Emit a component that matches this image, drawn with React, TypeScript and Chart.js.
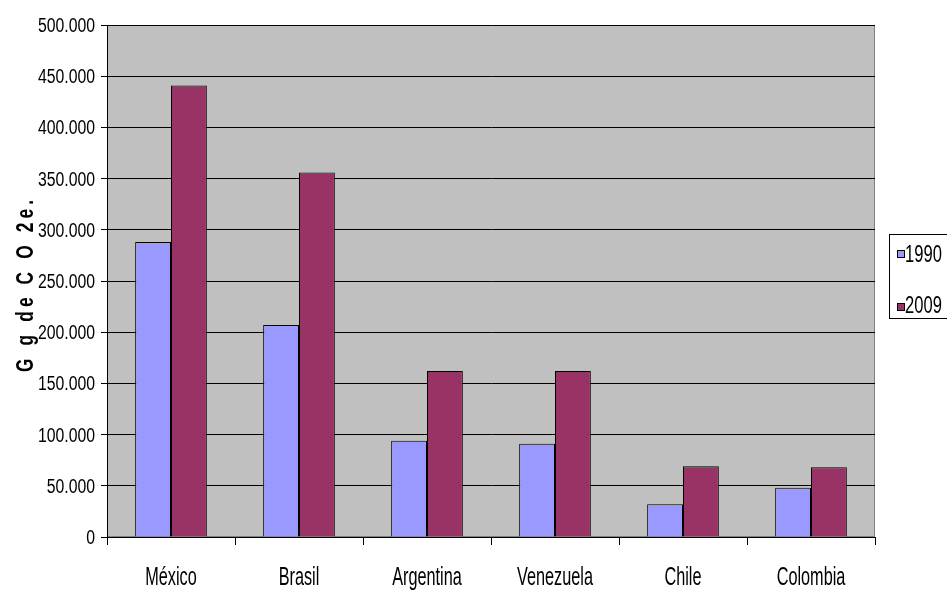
import React, { useEffect, useRef } from 'react';
import { Chart, registerables } from 'chart.js';

Chart.register(...registerables);

const categories = ['México', 'Brasil', 'Argentina', 'Venezuela', 'Chile', 'Colombia'];
const series1990 = [288000, 207000, 94000, 91000, 32000, 48000];
const series2009 = [441000, 356000, 162000, 162000, 69000, 68000];
const seriesLabels = ['1990', '2009'];
const seriesColors = ['#9999FF', '#993366'];
const yTitle = 'G g de C O 2e.';
const yMax = 500000;
const yStep = 50000;

const FONT = "'Liberation Sans', Arial, sans-serif";

function fmt(v: number): string {
  if (v === 0) return '0';
  return String(Math.round(v)).replace(/\B(?=(\d{3})+(?!\d))/g, '.');
}

function drawText(
  ctx: CanvasRenderingContext2D,
  text: string,
  x: number,
  y: number,
  size: number,
  sx: number,
  align: 'left' | 'right' | 'center',
  bold = false
) {
  ctx.save();
  ctx.font = `${bold ? 'bold ' : ''}${size}px ${FONT}`;
  ctx.fillStyle = '#000';
  ctx.textBaseline = 'alphabetic';
  ctx.textAlign = align;
  ctx.translate(x, y);
  ctx.scale(sx, 1);
  ctx.fillText(text, 0, 0);
  ctx.restore();
}

const decorPlugin = {
  id: 'decor',
  beforeDraw(chart: any) {
    const { ctx, chartArea } = chart;
    const { left, top, right, bottom } = chartArea;
    ctx.save();
    ctx.fillStyle = '#C0C0C0';
    ctx.fillRect(left, top, right - left, bottom - top);
    ctx.strokeStyle = '#808080';
    ctx.lineWidth = 1;
    ctx.strokeRect(left + 0.5, top + 0.5, right - left - 1, bottom - top - 1);
    ctx.restore();
  },
  afterDraw(chart: any) {
    const { ctx, chartArea, scales } = chart;

    // Y tick labels
    scales.y.ticks.forEach((t: any) => {
      const py = scales.y.getPixelForValue(t.value);
      drawText(ctx, fmt(t.value), 95, py + 7, 20, 0.79, 'right');
    });

    // X tick labels
    categories.forEach((c, i) => {
      const px = scales.x.getPixelForValue(i);
      drawText(ctx, c, px, 585, 25, 0.65, 'center');
    });

    // Y title (letters spread along the axis)
    ctx.save();
    const center = (chartArea.top + chartArea.bottom) / 2 + 5;
    ctx.translate(33, center);
    ctx.rotate(-Math.PI / 2);
    const size = 24;
    const sx = 0.72;
    ctx.font = `bold ${size}px ${FONT}`;
    ctx.fillStyle = '#000';
    ctx.textBaseline = 'alphabetic';
    ctx.textAlign = 'left';
    const chars = Array.from(yTitle);
    const widths = chars.map((ch) => ctx.measureText(ch).width * sx);
    const natural = widths.reduce((a, b) => a + b, 0);
    const total = 172;
    const gap = (total - natural) / (chars.length - 1);
    let cx = -total / 2;
    chars.forEach((ch, i) => {
      ctx.save();
      ctx.translate(cx, 0);
      ctx.scale(sx, 1);
      ctx.fillText(ch, 0, 0);
      ctx.restore();
      cx += widths[i] + gap;
    });
    ctx.restore();

    // Legend
    ctx.save();
    ctx.strokeStyle = '#000';
    ctx.lineWidth = 1;
    ctx.strokeRect(889.5, 234.5, 80, 84);
    const ys = [254, 307];
    const baselines = [262, 313];
    seriesLabels.forEach((lab, i) => {
      ctx.fillStyle = seriesColors[i];
      ctx.fillRect(898, ys[i] - 3, 6, 6);
      ctx.strokeStyle = '#000';
      ctx.strokeRect(897.5, ys[i] - 3.5, 7, 7);
      drawText(ctx, lab, 905, baselines[i], 23, 0.72, 'left');
    });
    ctx.restore();
  },
};

export default function App() {
  const ref = useRef<HTMLCanvasElement | null>(null);
  useEffect(() => {
    document.body.style.margin = '0';
    if (!ref.current) return;
    const chart = new Chart(ref.current, {
      type: 'bar',
      data: {
        labels: categories,
        datasets: [
          {
            label: seriesLabels[0],
            data: series1990,
            backgroundColor: seriesColors[0],
            borderColor: '#000',
            borderWidth: 1,
            categoryPercentage: 0.56,
            barPercentage: 1,
          },
          {
            label: seriesLabels[1],
            data: series2009,
            backgroundColor: seriesColors[1],
            borderColor: '#000',
            borderWidth: 1,
            categoryPercentage: 0.56,
            barPercentage: 1,
          },
        ],
      },
      options: {
        responsive: false,
        animation: false,
        layout: { padding: { left: 0, top: 25, right: 72, bottom: 0 } },
        plugins: {
          legend: { display: false },
          tooltip: { enabled: false },
          title: { display: false },
        },
        scales: {
          x: {
            grid: {
              offset: true,
              drawOnChartArea: false,
              drawTicks: true,
              tickLength: 8,
              color: '#000',
            },
            border: { display: true, color: '#000', width: 1 },
            ticks: { display: false, autoSkip: false },
            afterFit(s: any) {
              s.height = 53;
            },
          },
          y: {
            min: 0,
            max: yMax,
            grid: {
              color: '#000',
              lineWidth: 1,
              drawTicks: true,
              tickLength: 6,
            },
            border: { display: true, color: '#000', width: 1 },
            ticks: { display: false, stepSize: yStep },
            afterFit(s: any) {
              s.width = 107;
            },
          },
        },
      },
      plugins: [decorPlugin],
    });
    return () => chart.destroy();
  }, []);
  return (
    <div style={{ position: 'absolute', left: 0, top: 0, width: 947, height: 590, background: '#fff' }}>
      <canvas ref={ref} width={947} height={590} style={{ display: 'block' }} />
    </div>
  );
}
